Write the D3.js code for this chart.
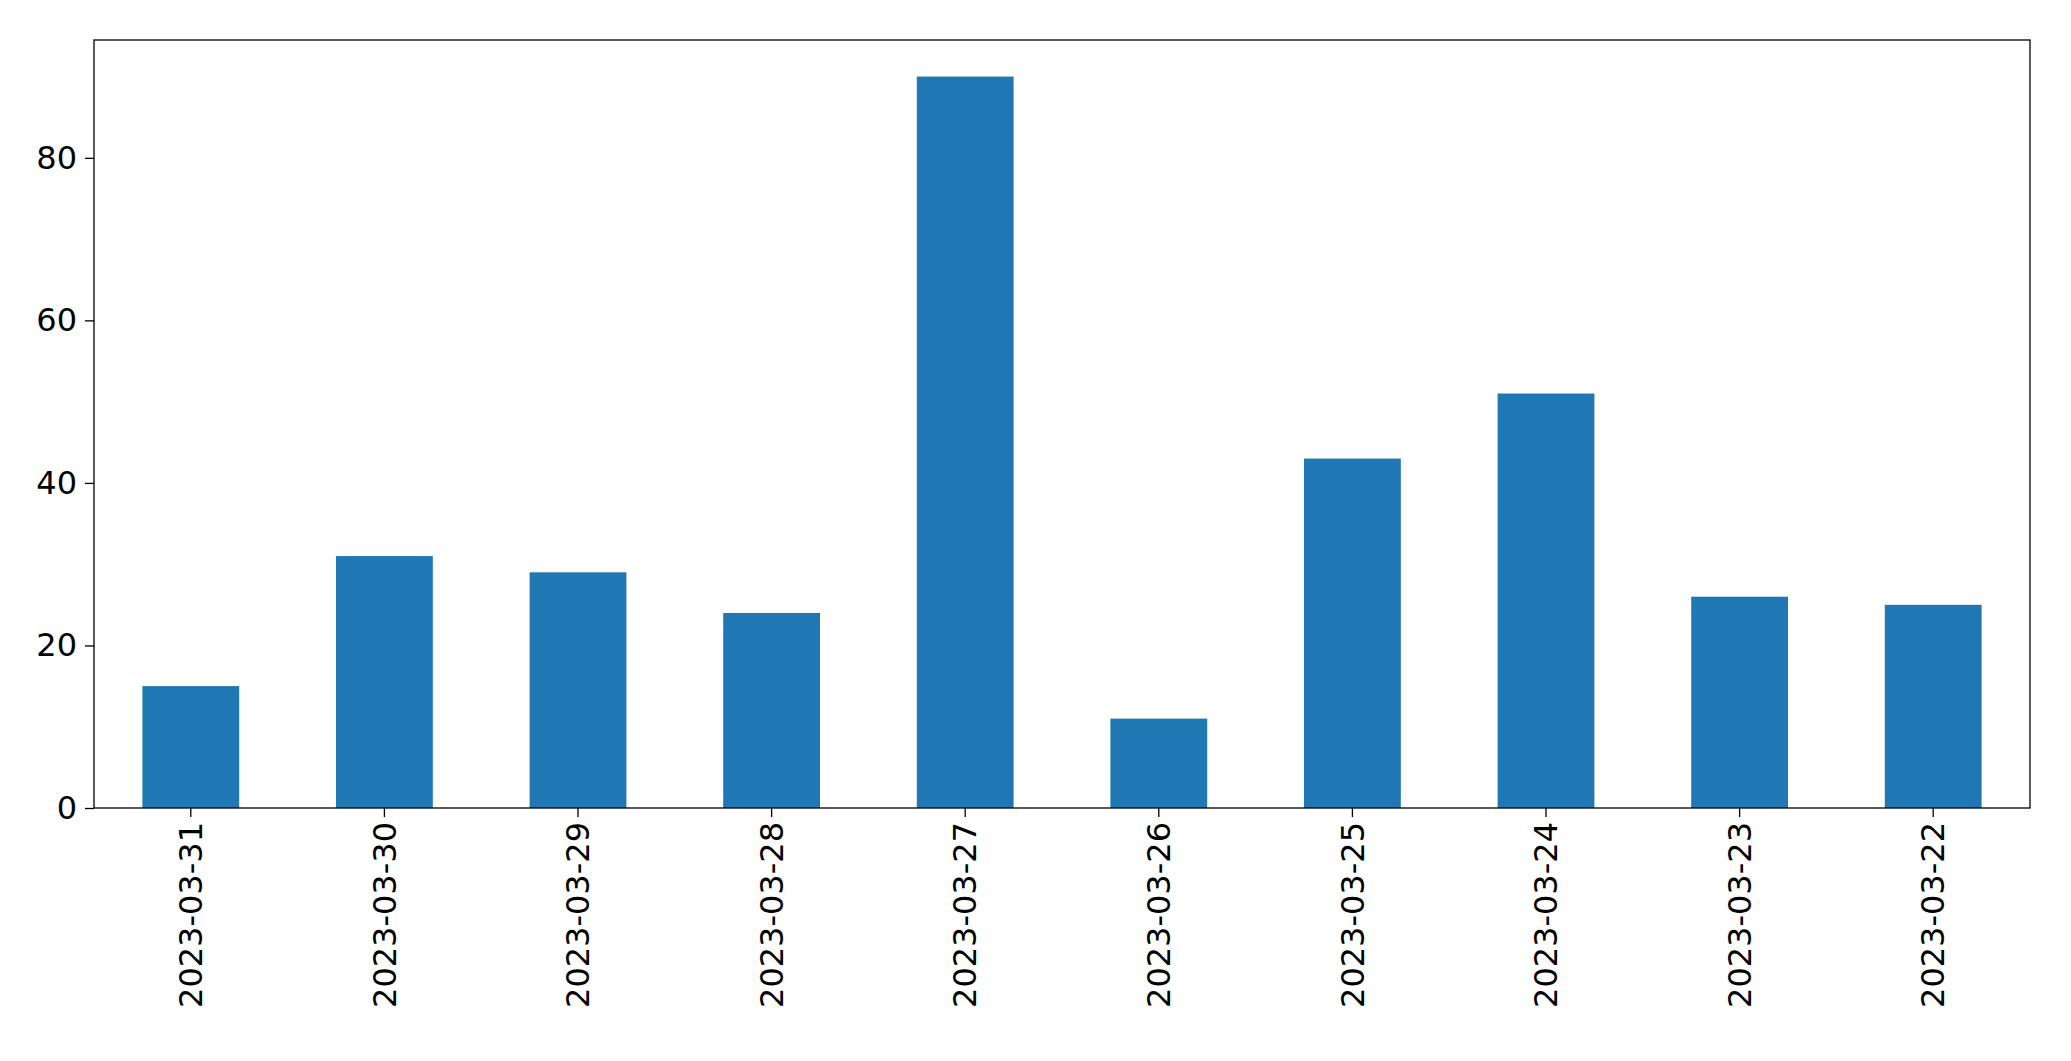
<!DOCTYPE html>
<html><head><meta charset="utf-8">
<script src="https://cdn.jsdelivr.net/npm/d3@7"></script>
<style>body{margin:0;background:#fff}</style></head>
<body><svg id="c" width="2071" height="1061"></svg>
<script>
const categories=["2023-03-31","2023-03-30","2023-03-29","2023-03-28","2023-03-27","2023-03-26","2023-03-25","2023-03-24","2023-03-23","2023-03-22"];
const values=[15,31,29,24,90,11,43,51,26,25];
const yTicks=[0,20,40,60,80];
const m={l:94,r:2071-2030,t:40,b:1061-808};
const svg=d3.select("#c");
const W=2071-m.l-m.r,H=1061-m.t-m.b;
const g=svg.append("g").attr("transform",`translate(${m.l},${m.t})`);
const x=d3.scaleBand().domain(categories).range([0,W]).paddingInner(0.5).paddingOuter(0.25);
const y=d3.scaleLinear().domain([0,94.5]).range([H,0]);
g.selectAll("rect.b").data(values).join("rect").attr("class","b")
 .attr("x",(d,i)=>x(categories[i])).attr("width",x.bandwidth())
 .attr("y",d=>y(d)).attr("height",d=>H-y(d)).attr("fill","#1f77b4");
const font="DejaVu Sans";
const ya=g.append("g").call(d3.axisLeft(y).tickValues(yTicks).tickSize(9).tickPadding(8));
ya.selectAll("text").attr("font-family",font).attr("font-size",32).attr("fill","#000");
const xa=g.append("g").attr("transform",`translate(0,${H})`).call(d3.axisBottom(x).tickSize(9).tickPadding(8));
xa.selectAll("text").attr("font-family",font).attr("font-size",32).attr("fill","#000")
 .attr("transform","rotate(-90)").attr("text-anchor","end").attr("dx","-14").attr("dy","0.35em").attr("y",0);
[ya,xa].forEach(a=>{a.select(".domain").remove();a.selectAll("line").attr("stroke","#000").attr("stroke-width",1.3);});
g.append("rect").attr("width",W).attr("height",H).attr("fill","none").attr("stroke","#000").attr("stroke-width",1.3);
</script></body></html>
